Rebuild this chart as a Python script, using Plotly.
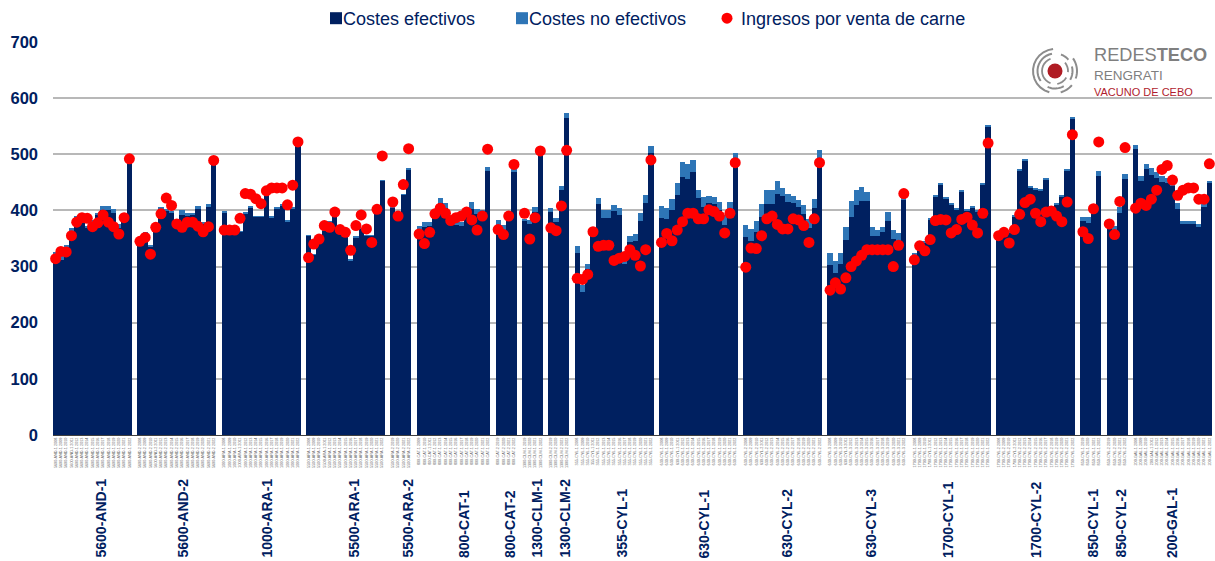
import math
import plotly.graph_objects as go

group_names = ["5600-AND-1", "5600-AND-2", "1000-ARA-1", "5500-ARA-1", "5500-ARA-2", "800-CAT-1",
               "800-CAT-2", "1300-CLM-1", "1300-CLM-2", "355-CYL-1", "630-CYL-1", "630-CYL-2",
               "630-CYL-3", "1700-CYL-1", "1700-CYL-2", "850-CYL-1", "850-CYL-2", "200-GAL-1"]
group_first_year = [2008, 2008, 2008, 2008, 2019, 2009, 2019, 2019, 2019, 2008, 2008, 2008,
                    2008, 2008, 2008, 2019, 2019, 2008]

costes_efectivos = [
    [322, 312, 335, 364, 387, 388, 368, 380, 391, 400, 400, 396, 369, 383, 489],
    [343, 358, 335, 362, 403, 399, 396, 377, 392, 390, 392, 402, 375, 407, 487],
    [396, 362, 362, 362, 394, 405, 389, 389, 441, 388, 404, 408, 380, 404, 518],
    [355, 321, 352, 364, 379, 391, 367, 358, 311, 352, 367, 355, 355, 394, 453],
    [405, 387, 428, 473],
    [366, 370, 372, 388, 413, 405, 382, 374, 372, 388, 403, 394, 391, 470],
    [373, 366, 382, 468],
    [382, 375, 398, 499],
    [397, 380, 436, 565],
    [325, 255, 296, 355, 411, 387, 387, 399, 391, 305, 343, 346, 381, 414, 503],
    [386, 385, 400, 427, 460, 456, 468, 422, 407, 414, 412, 400, 374, 400, 479],
    [352, 345, 361, 389, 411, 411, 429, 426, 415, 414, 406, 394, 369, 404, 477],
    [302, 288, 305, 348, 389, 410, 417, 417, 355, 355, 361, 382, 349, 345, 420],
    [322, 342, 343, 383, 425, 446, 422, 410, 402, 433, 399, 405, 398, 447, 550],
    [353, 357, 360, 389, 471, 489, 440, 438, 435, 455, 403, 411, 425, 472, 563],
    [381, 378, 398, 462],
    [374, 364, 395, 456],
    [510, 452, 473, 464, 458, 451, 448, 443, 402, 375, 375, 375, 371, 407, 448],
]
costes_no_efectivos = [
    [4, 6, 2, 5, 3, 3, 5, 2, 5, 8, 8, 6, 7, 2, 3],
    [2, 3, 2, 2, 4, 4, 2, 3, 8, 5, 4, 6, 4, 5, 2],
    [2, 1, 1, 1, 2, 2, 1, 1, 2, 1, 2, 2, 3, 2, 1],
    [1, 1, 1, 1, 1, 1, 1, 1, 1, 1, 1, 1, 1, 1, 1],
    [1, 1, 1, 1],
    [7, 9, 8, 7, 9, 9, 7, 8, 8, 7, 12, 8, 9, 7],
    [10, 8, 10, 6],
    [3, 8, 8, 2],
    [8, 7, 7, 9],
    [12, 13, 8, 6, 12, 13, 13, 11, 13, 5, 12, 12, 14, 14, 12],
    [22, 20, 20, 22, 27, 26, 22, 15, 17, 12, 12, 15, 17, 15, 23],
    [22, 22, 21, 22, 26, 26, 23, 14, 15, 12, 12, 15, 15, 16, 30],
    [22, 22, 20, 22, 27, 26, 24, 16, 16, 10, 10, 15, 16, 15, 2],
    [2, 2, 2, 2, 2, 2, 2, 2, 2, 2, 2, 2, 2, 2, 2],
    [2, 2, 2, 2, 2, 2, 2, 2, 2, 2, 2, 2, 2, 2, 2],
    [8, 10, 2, 9],
    [2, 9, 12, 9],
    [6, 9, 9, 11, 10, 11, 9, 11, 12, 7, 7, 6, 5, 5, 4],
]
ingresos_carne = [
    [314, 327, 326, 355, 379, 387, 386, 371, 378, 392, 379, 371, 358, 387, 492],
    [345, 352, 322, 370, 394, 422, 409, 376, 370, 379, 379, 372, 362, 371, 489],
    [365, 365, 365, 386, 430, 429, 421, 412, 435, 440, 440, 440, 410, 445, 522],
    [316, 340, 349, 373, 370, 397, 366, 361, 329, 373, 392, 367, 343, 402, 497],
    [415, 390, 446, 510],
    [358, 341, 361, 394, 404, 395, 382, 387, 390, 397, 383, 365, 390, 509],
    [366, 357, 390, 482],
    [395, 349, 387, 506],
    [369, 364, 408, 507],
    [279, 277, 286, 362, 336, 338, 338, 311, 315, 318, 330, 320, 301, 330, 490],
    [343, 359, 346, 365, 380, 395, 395, 385, 385, 401, 398, 390, 360, 395, 485],
    [299, 333, 332, 355, 385, 390, 375, 367, 367, 385, 383, 373, 343, 385, 485],
    [258, 271, 260, 280, 300, 310, 320, 330, 330, 330, 330, 330, 300, 338, 430],
    [312, 337, 328, 348, 382, 384, 383, 360, 366, 384, 388, 374, 360, 395, 520],
    [355, 361, 342, 366, 393, 414, 420, 395, 380, 397, 399, 390, 380, 415, 535],
    [362, 350, 403, 522],
    [376, 357, 416, 512],
    [404, 413, 409, 420, 436, 473, 480, 454, 427, 436, 440, 440, 420, 420, 483],
]
y_ticks = [0, 100, 200, 300, 400, 500, 600, 700]
# Horizontal centres (px) of the rotated group captions in the page
group_label_px = [100, 182, 266, 353, 407, 464, 510, 536, 564, 621, 703, 786, 870, 948, 1036, 1092, 1120, 1172]

W, H = 1215, 561
L, R, T, B = 53, 1212, 42, 435
NAVY = "#002060"


def px(x):
    return (x - L) / (R - L)


def py(y):
    return (B - y) / (B - T)


cats, labels, cash, noncash, meat = [], [], [], [], []
gap = 0
for i, name in enumerate(group_names):
    if i:
        gap += 1
        cats.append(" " * gap)
        labels.append("")
    for j, value in enumerate(costes_efectivos[i]):
        tag = f"{name} {group_first_year[i] + j}"
        cats.append(tag)
        labels.append(tag)
        cash.append((tag, value))
        noncash.append((tag, costes_no_efectivos[i][j]))
        meat.append((tag, ingresos_carne[i][j]))

fig = go.Figure()
fig.add_bar(x=[c[0] for c in cash], y=[c[1] for c in cash], name="Costes efectivos",
            marker=dict(color=NAVY, line_width=0), legend="legend")
fig.add_bar(x=[c[0] for c in noncash], y=[c[1] for c in noncash], name="Costes no efectivos",
            marker=dict(color="#2E75B6", line_width=0), legend="legend2")
fig.add_scatter(x=[c[0] for c in meat], y=[c[1] for c in meat], name="Ingresos por venta de carne",
                mode="markers", marker=dict(color="#FF0000", size=11, line_width=0), cliponaxis=False,
                legend="legend3")

annotations = [
    dict(text=f"<b>{name}</b>", x=px(group_label_px[i]), y=py(559), xref="paper", yref="paper",
         xanchor="center", yanchor="bottom", textangle=-90, showarrow=False,
         font=dict(family="Liberation Sans", size=14, color=NAVY), borderpad=0)
    for i, name in enumerate(group_names)
]
GRAY = "#7f7f7f"
annotations += [
    dict(text='REDES<b>TECO</b>', x=px(1093), y=py(61), xref="paper", yref="paper", xanchor="left",
         yanchor="bottom", yshift=-5, showarrow=False, borderpad=0,
         font=dict(family="Liberation Sans", size=18.2, color=GRAY)),
    dict(text="RENGRATI", x=px(1093), y=py(81), xref="paper", yref="paper", xanchor="left",
         yanchor="bottom", yshift=-3, showarrow=False, borderpad=0,
         font=dict(family="Liberation Sans", size=13.5, color=GRAY)),
    dict(text="VACUNO DE CEBO", x=px(1093), y=py(96), xref="paper", yref="paper", xanchor="left",
         yanchor="bottom", yshift=-3, showarrow=False, borderpad=0,
         font=dict(family="Liberation Sans", size=11, color="#B01C2E")),
]


def logo_arc(r, a0, a1, w):
    steps = 12
    pts = []
    for k in range(steps + 1):
        a = math.radians(a0 + (a1 - a0) * k / steps)
        pts.append((px(1055 + r * math.cos(a)), py(71 - r * math.sin(a))))
    d = "M" + " L".join(f"{x},{y}" for x, y in pts)
    return dict(type="path", path=d, xref="paper", yref="paper", line=dict(color="#8C8C8C", width=w))


shapes = [
    dict(type="circle", xref="paper", yref="paper", x0=px(1047.5), x1=px(1062.5), y0=py(78.5), y1=py(63.5),
         fillcolor="#B01C24", line_width=0),
]
for r, a0, a1, w in [(22, 95, 255, 2), (22, 285, 320, 2), (22, 340, 395, 2),
                     (17.5, 100, 215, 2), (17.5, 245, 300, 2), (17.5, 330, 375, 2), (17.5, 40, 70, 2),
                     (13, 110, 250, 1.8), (13, 280, 330, 1.8), (13, 355, 400, 1.8)]:
    shapes.append(logo_arc(r, a0, a1, w))


def legend_at(x_px):
    return dict(orientation="h", x=px(x_px), y=py(0), xanchor="left", yanchor="top",
                font=dict(size=18, color=NAVY), bgcolor="rgba(0,0,0,0)")


fig.update_layout(
    width=W, height=H, margin=dict(l=L, r=W - R, t=T, b=H - B, autoexpand=False),
    barmode="stack", bargap=0, paper_bgcolor="white", plot_bgcolor="white", showlegend=True,
    font=dict(family="Liberation Sans", color=NAVY),
    legend=legend_at(303), legend2=legend_at(489), legend3=legend_at(701),
    xaxis=dict(type="category", categoryorder="array", categoryarray=cats, tickmode="array",
               tickvals=cats, ticktext=labels, tickangle=-90, tickfont=dict(size=3.8, color="#666666"),
               range=[-0.5, len(cats) - 0.5], showgrid=False, showline=True, linecolor="#404040",
               linewidth=1, ticks="", automargin=False, fixedrange=True),
    yaxis=dict(range=[0, 700], tickvals=y_ticks, showgrid=True, gridcolor="#B8B8B8", griddash="solid",
               gridwidth=1.5, zeroline=False, showline=False, ticks="", ticklabelstandoff=14,
               tickfont=dict(size=16.5, color=NAVY, weight="bold"), automargin=False, fixedrange=True),
    annotations=annotations, shapes=shapes,
)
post = """
document.body.style.margin='0';
[['legend',13],['legend2',13],['legend3',6]].forEach(function(p){
  document.querySelectorAll('.'+p[0]+' .legendsymbols').forEach(function(g){
    g.setAttribute('transform','translate('+p[1]+',0)');
  });
});
"""
fig.write_html("out.html", post_script=post, config=dict(displayModeBar=False))
